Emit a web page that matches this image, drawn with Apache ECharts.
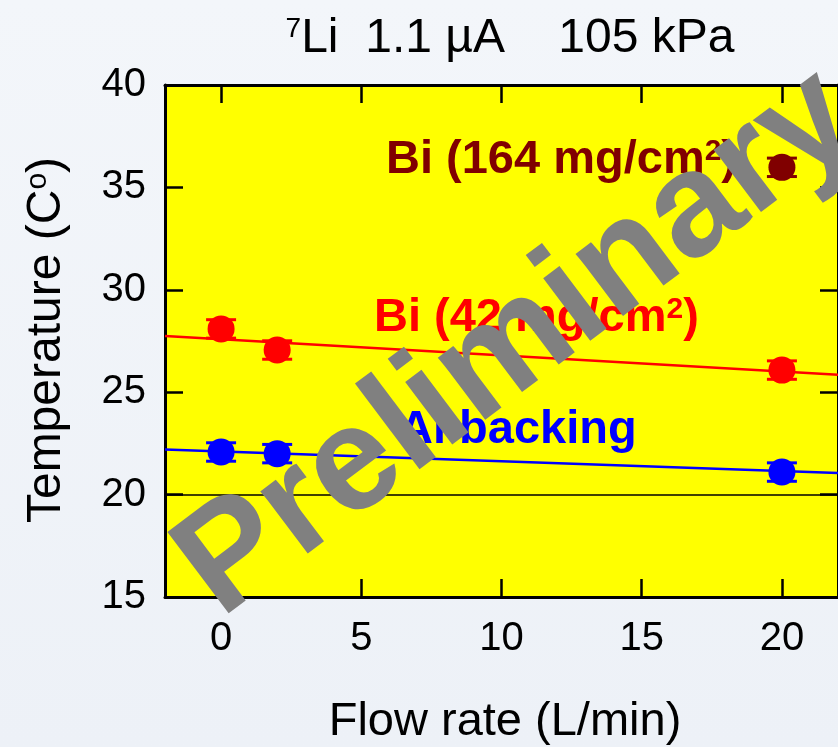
<!DOCTYPE html>
<html>
<head>
<meta charset="utf-8">
<script src="https://cdn.jsdelivr.net/npm/echarts@6/dist/echarts.min.js"></script>
<style>
html,body{margin:0;padding:0;overflow:hidden;}
#chart{width:838px;height:747px;}
</style>
</head>
<body>
<div id="chart"></div>
<script>
// ---- data ----
var xTicks = [0, 5, 10, 15, 20];
var yTicks = [15, 20, 25, 30, 35, 40];

var alX = [0, 2, 20];
var alY = [22.08, 22.0, 21.1];
var alErr = [0.45, 0.45, 0.45];

var bi42X = [0, 2, 20];
var bi42Y = [28.09, 27.06, 26.08];
var bi42Err = [0.45, 0.45, 0.45];

var bi164X = [20];
var bi164Y = [35.98];
var bi164Err = [0.45];

var fitX = [-2, 22];
var alFitY = [22.2, 21.05];
var bi42FitY = [27.75, 25.85];

var refLineY = 20;

var FONT = "'Liberation Sans', Arial, Helvetica, sans-serif";

function pairs(xs, ys) { return xs.map(function (x, i) { return [x, ys[i]]; }); }
function errData(xs, ys, es) { return xs.map(function (x, i) { return [x, ys[i] - es[i], ys[i] + es[i]]; }); }

function errSeries(xs, ys, es, color) {
  return {
    type: 'custom',
    data: errData(xs, ys, es),
    z: 3,
    renderItem: function (params, api) {
      var x = api.value(0);
      var lo = api.coord([x, api.value(1)]);
      var hi = api.coord([x, api.value(2)]);
      var hw = 15;
      var st = { stroke: color, lineWidth: 3 };
      return {
        type: 'group',
        children: [
          { type: 'line', shape: { x1: lo[0], y1: lo[1], x2: hi[0], y2: hi[1] }, style: st },
          { type: 'line', shape: { x1: lo[0] - hw, y1: lo[1], x2: lo[0] + hw, y2: lo[1] }, style: st },
          { type: 'line', shape: { x1: hi[0] - hw, y1: hi[1], x2: hi[0] + hw, y2: hi[1] }, style: st }
        ]
      };
    }
  };
}

function supLabel(main, sup, tail, color) {
  return {
    text: '{a|' + main + '}{b|' + sup + '}{a|' + tail + '}',
    align: 'left', verticalAlign: 'middle',
    rich: {
      a: { fontFamily: FONT, fontWeight: 'bold', fontSize: 47, lineHeight: 47, fill: color },
      b: { fontFamily: FONT, fontWeight: 'bold', fontSize: 30, lineHeight: 30, fill: color, verticalAlign: 'top' }
    }
  };
}

var axisLineStyle = { show: true, onZero: false, lineStyle: { color: '#000', width: 3 } };

var chart = echarts.init(document.getElementById('chart'));
chart.setOption({
  backgroundColor: {
    type: 'linear', x: 0, y: 0, x2: 0, y2: 1,
    colorStops: [{ offset: 0, color: '#f3f6fa' }, { offset: 1, color: '#edf1f7' }]
  },
  animation: false,
  title: {
    text: '{s|7}{n|Li  1.1 \u00b5A    105 kPa}',
    left: 505, top: 10, textAlign: 'center',
    textStyle: {
      fontWeight: 'normal',
      rich: {
        s: { fontFamily: FONT, fontSize: 28, lineHeight: 28, fontWeight: 'normal', color: '#000', verticalAlign: 'top' },
        n: { fontFamily: FONT, fontSize: 48, lineHeight: 48, fontWeight: 'normal', color: '#000' }
      }
    }
  },
  grid: { left: 165, top: 85, bottom: 150, right: -8, show: true, backgroundColor: '#ffff00', borderWidth: 0 },
  xAxis: [
    {
      type: 'value', min: -2, max: 22, position: 'bottom',
      axisLine: axisLineStyle,
      axisTick: { show: true, inside: true, length: 18, lineStyle: { color: '#000', width: 2.5 }, customValues: xTicks },
      axisLabel: { show: true, margin: 22, fontFamily: FONT, fontSize: 40, color: '#000', customValues: xTicks },
      splitLine: { show: false }
    },
    {
      type: 'value', min: -2, max: 22, position: 'top',
      axisLine: axisLineStyle,
      axisTick: { show: true, inside: true, length: 18, lineStyle: { color: '#000', width: 2.5 }, customValues: xTicks },
      axisLabel: { show: false },
      splitLine: { show: false }
    }
  ],
  yAxis: [
    {
      type: 'value', min: 15, max: 40, interval: 5, position: 'left',
      axisLine: axisLineStyle,
      axisTick: { show: true, inside: true, length: 18, lineStyle: { color: '#000', width: 2.5 } },
      axisLabel: { show: true, margin: 19, fontFamily: FONT, fontSize: 40, color: '#000', showMinLabel: true, showMaxLabel: true },
      splitLine: { show: false }
    },
    {
      type: 'value', min: 15, max: 40, interval: 5, position: 'right',
      axisLine: axisLineStyle,
      axisTick: { show: true, inside: true, length: 18, lineStyle: { color: '#000', width: 2.5 } },
      axisLabel: { show: false },
      splitLine: { show: false }
    }
  ],
  series: [
    {
      type: 'line', data: pairs(fitX, bi42FitY), symbol: 'none', z: 2,
      lineStyle: { color: '#ff0000', width: 2.5 }
    },
    {
      type: 'line', data: pairs(fitX, alFitY), symbol: 'none', z: 2,
      lineStyle: { color: '#0000ff', width: 2.5 },
      markLine: {
        silent: true, symbol: 'none', label: { show: false },
        lineStyle: { color: '#000', width: 1.5, type: 'solid' },
        data: [{ yAxis: refLineY }]
      }
    },
    errSeries(alX, alY, alErr, '#0000ff'),
    errSeries(bi42X, bi42Y, bi42Err, '#ff0000'),
    errSeries(bi164X, bi164Y, bi164Err, '#800000'),
    { type: 'scatter', data: pairs(alX, alY), symbol: 'circle', symbolSize: 27, z: 4, itemStyle: { color: '#0000ff', opacity: 1 } },
    { type: 'scatter', data: pairs(bi42X, bi42Y), symbol: 'circle', symbolSize: 27, z: 4, itemStyle: { color: '#ff0000', opacity: 1 } },
    { type: 'scatter', data: pairs(bi164X, bi164Y), symbol: 'circle', symbolSize: 27, z: 4, itemStyle: { color: '#800000', opacity: 1 } }
  ],
  graphic: [
    {
      type: 'text', x: 505, y: 722, z: 10,
      style: { text: 'Flow rate (L/min)', font: '47px ' + FONT, fill: '#000', align: 'center', verticalAlign: 'middle' }
    },
    {
      type: 'text', x: 47, y: 340, rotation: Math.PI / 2, z: 10,
      style: {
        text: '{a|Temperature (C}{b|o}{a|)}', align: 'center', verticalAlign: 'middle',
        rich: {
          a: { fontFamily: FONT, fontSize: 48, lineHeight: 48, fill: '#000' },
          b: { fontFamily: FONT, fontSize: 30, lineHeight: 30, fill: '#000', verticalAlign: 'top' }
        }
      }
    },
    { type: 'text', x: 386, y: 160, z: 20, style: supLabel('Bi (164 mg/cm', '2', ')', '#800000') },
    { type: 'text', x: 374, y: 318, z: 20, style: supLabel('Bi (42 mg/cm', '2', ')', '#ff0000') },
    {
      type: 'text', x: 399, y: 430, z: 20,
      style: { text: 'Al backing', font: 'bold 47px ' + FONT, fill: '#0000ff', align: 'left', verticalAlign: 'middle' }
    },
    {
      type: 'text', x: 518, y: 344, rotation: 37 * Math.PI / 180, z: 100,
      style: { text: 'Preliminary', font: 'bold 148px ' + FONT, fill: '#808080', align: 'center', verticalAlign: 'middle' }
    }
  ]
});
</script>
</body>
</html>
